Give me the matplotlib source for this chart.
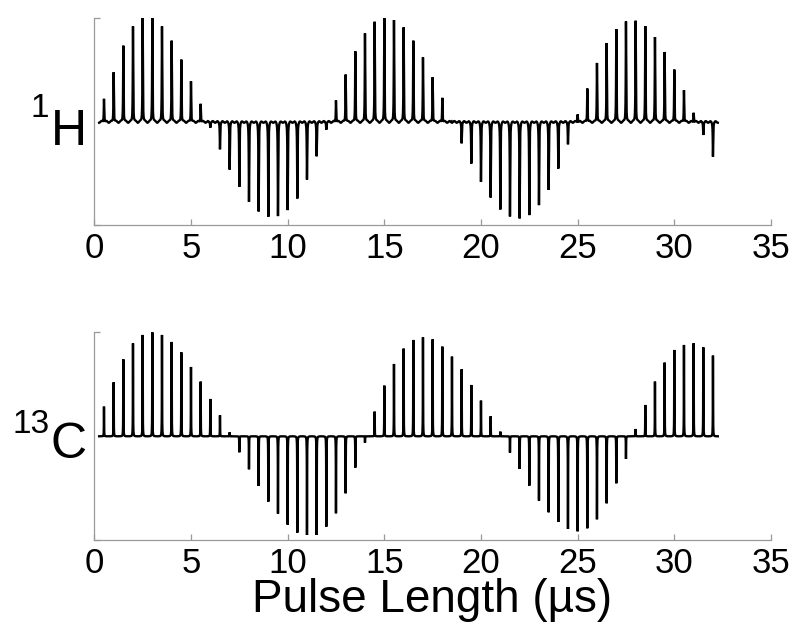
import numpy as np
import matplotlib
matplotlib.use("Agg")
import matplotlib.pyplot as plt

plt.rcParams['font.family'] = ['Liberation Sans', 'DejaVu Sans']

# pulse lengths (us) of each spectrum in the array
pulse_us = np.arange(1, 65) * 0.5

# peak intensity (arb. units) for each pulse length
h1_amp = [72, 152, 232, 290, 315, 315, 290, 247, 190, 125, 57, -15,
          -80, -141, -193, -238, -267, -283, -281, -263, -228, -171, -101, -21,
          67, 145, 215, 269, 304, 315, 309, 287, 247, 197, 137, 75,
          3, -62, -123, -178, -225, -261, -282, -288, -278, -248, -202, -138,
          -65, 25, 103, 180, 240, 282, 305, 307, 291, 258, 213, 160,
          98, 30, -37, -102]

c13_amp = [89, 162, 231, 279, 304, 312, 304, 283, 252, 208, 164, 112,
           63, 12, -48, -99, -149, -196, -232, -265, -289, -296, -296, -271,
           -231, -171, -94, -19, 74, 152, 217, 263, 289, 297, 291, 269,
           239, 201, 154, 107, 60, 14, -49, -98, -148, -193, -228, -257,
           -278, -285, -276, -249, -201, -141, -68, 22, 94, 164, 221, 259,
           274, 279, 267, 242]


def spectrum_trace(x, amps, width, ripple):
    """Concatenated spectra: each pulse length gets its own 0.5 us window
    holding one narrow line, plus a small baseline roll between windows."""
    y = np.zeros_like(x)
    edge = 1.0 / (1.0 + (0.25 / width) ** 2)
    for x0, a in zip(pulse_us, amps):
        seg = np.abs(x - x0) <= 0.25
        line = 1.0 / (1.0 + ((x[seg] - x0) / width) ** 2)
        y[seg] += a * (line - edge) / (1.0 - edge)
        # small roll of the baseline in each window
        y[seg] += ripple * np.sin(np.pi * (x[seg] - x0) / 0.25) ** 2
    return y


x = np.linspace(0.25, 32.25, 6401)

fig = plt.figure(figsize=(8.0, 6.34), dpi=100)
ax_h = fig.add_axes([0.1179, 0.645, 0.8458, 0.3265])
ax_c = fig.add_axes([0.1179, 0.1483, 0.8458, 0.3276])

panels = [(ax_h, h1_amp, (-308, 315), 0.012, 5),
          (ax_c, c13_amp, (-311, 312), 0.006, 0)]

for ax, amps, ylim, w, rip in panels:
    ax.plot(x, spectrum_trace(x, amps, w, rip), color='black', lw=1.7,
            solid_joinstyle='miter', clip_on=False)
    ax.set_xlim(0, 35)
    ax.set_ylim(*ylim)
    ax.set_xticks([0, 5, 10, 15, 20, 25, 30, 35])
    ax.set_yticks(list(ylim))
    ax.set_yticklabels([])
    for side in ('top', 'right'):
        ax.spines[side].set_visible(False)
    for side in ('left', 'bottom'):
        ax.spines[side].set_color('0.6')
        ax.spines[side].set_linewidth(0.9)
    ax.tick_params(direction='in', length=4, width=0.9, color='0.6',
                   labelsize=25, pad=5, labelcolor='black')

# nucleus labels
fig.text(40 / 800, 1 - 117 / 634, '1', fontsize=24, ha='center', va='baseline')
fig.text(69 / 800, 1 - 145 / 634, 'H', fontsize=36, ha='center', va='baseline')
fig.text(31 / 800, 1 - 433 / 634, '13', fontsize=24, ha='center', va='baseline')
fig.text(69 / 800, 1 - 458 / 634, 'C', fontsize=36, ha='center', va='baseline')

fig.text(432 / 800, 1 - 612 / 634, 'Pulse Length (\u00b5s)', fontsize=33,
         ha='center', va='baseline')

fig.savefig('out.png', dpi=100)
